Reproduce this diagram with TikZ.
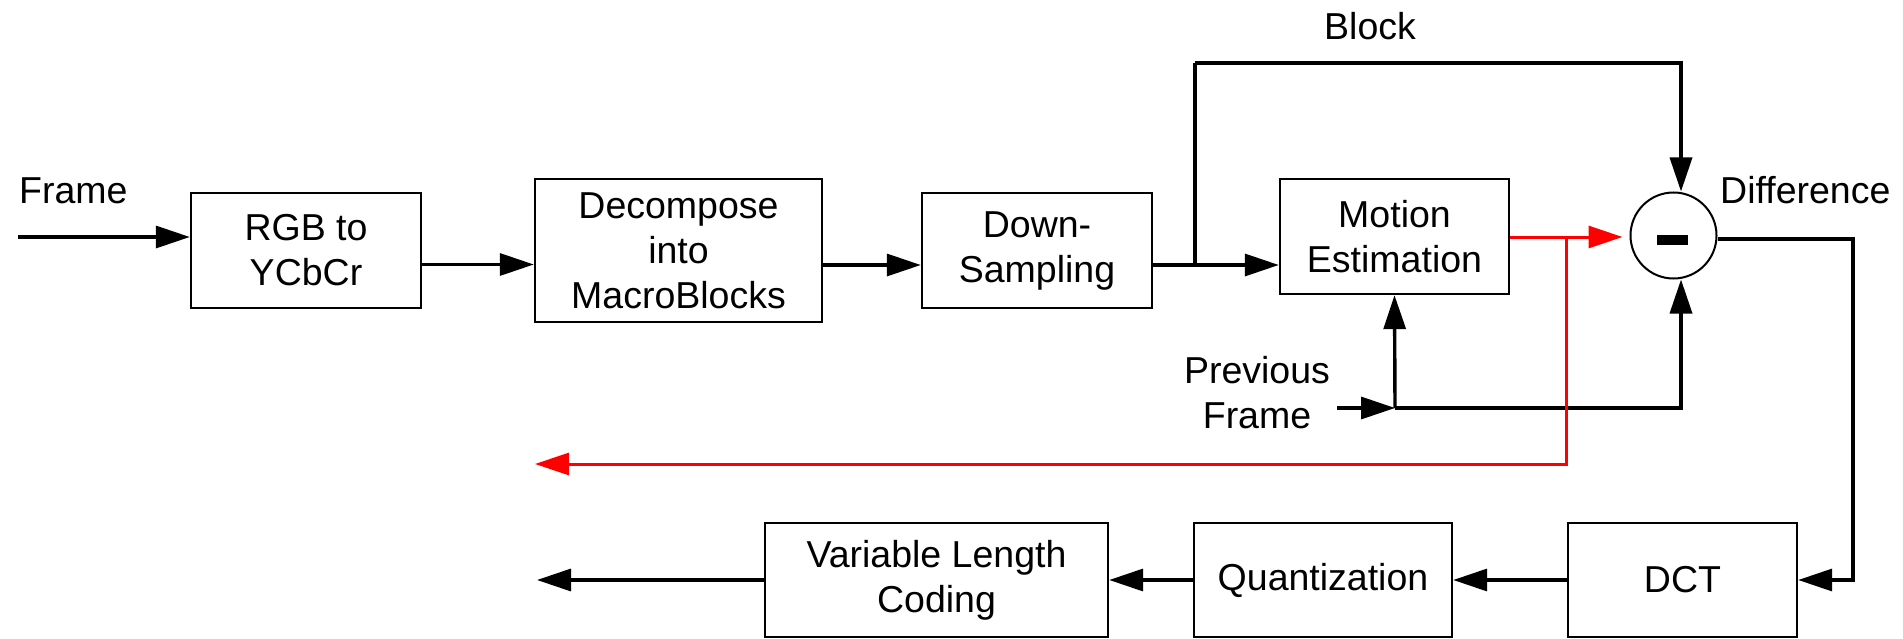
\documentclass[tikz,border=0pt]{standalone}
\usepackage{fontspec}
\setmainfont{Liberation Sans}
\usetikzlibrary{arrows.meta}

\newcommand\diagfont{\fontsize{37.5}{45}\selectfont}

\begin{document}
\begin{tikzpicture}[x=1pt,y=-1pt,
  box/.style={draw, line width=2.4pt, inner sep=0pt, align=center, font=\diagfont},
  lbl/.style={inner sep=0pt, align=center, font=\diagfont},
  tip/.style={-{Triangle[length=34pt,width=22pt]}},
  conn/.style={draw, line width=3.4pt, tip},
  redconn/.style={draw=red, line width=3pt, -{Triangle[length=34pt,width=22pt]}},
  wire/.style={draw, line width=3.4pt},
  redwire/.style={draw=red, line width=3pt}
]
\useasboundingbox (0,0) rectangle (1903,639);

% processing blocks, upper row
\node[box, minimum width=230pt, minimum height=115pt] (rgb)  at (306,250.5)   {RGB to\\YCbCr};
\node[box, minimum width=287pt, minimum height=143pt] (dec)  at (678.5,250.5) {Decompose\\into\\MacroBlocks};
\node[box, minimum width=230pt, minimum height=115pt] (down) at (1037,250.5)  {Down-\\Sampling};
\node[box, minimum width=229pt, minimum height=115pt] (me)   at (1394.5,236.5){Motion\\Estimation};

% subtractor
\node[draw, circle, line width=2pt, minimum size=86pt, inner sep=0pt] (sub) at (1673.5,235.5) {};
\fill (1657,235) rectangle (1688,245);

% processing blocks, lower row
\node[box, minimum width=343pt, minimum height=114pt] (vlc)   at (936.5,580) {Variable Length\\Coding};
\node[box, minimum width=258pt, minimum height=114pt] (quant) at (1323,580)  {Quantization};
\node[box, minimum width=229pt, minimum height=114pt] (dct)   at (1682.5,580){DCT};

% labels
\node[lbl, anchor=base west] (framelbl) at (19,204)    {Frame};
\node[lbl, anchor=base]      (blocklbl) at (1370,40)   {Block};
\node[lbl, anchor=base west] (difflbl)  at (1720,204)  {Difference};
\node[lbl]                   (prevlbl)  at (1257,393)  {Previous\\Frame};

% junction and end points
\coordinate (fin)  at (18,237);
\coordinate (br)   at (1195,265);
\coordinate (topL) at (1195,63);
\coordinate (pfin) at (1337,408);
\coordinate (pj)   at (1395,408);
\coordinate (rj)   at (1566,237);
\coordinate (rc)   at (1566,464);
\coordinate (rend) at (535,464);
\coordinate (oc)   at (1853,239);
\coordinate (out)  at (537,580);

% upper chain
\draw[conn] (fin) -- ([yshift=13.5pt]rgb.west);
\draw[conn] ([yshift=-14pt]rgb.east) -- ([yshift=-14pt]dec.west);
\draw[conn] ([yshift=-14.5pt]dec.east) -- ([yshift=-14.5pt]down.west);
\draw[conn] ([yshift=-14.5pt]down.east) -- ([yshift=-28.5pt]me.west);

% block path to the subtractor
\draw[wire] (br) -- (topL);
\draw[conn] (topL) -| ([xshift=7.5pt]sub.north);

% previous frame inputs
\draw[conn] (pfin) -- (pj);
\draw[conn] (pj) -- (me.south);
\draw[conn] (pj) -| ([xshift=7.5pt]sub.south);

% motion vectors (red)
\draw[redconn, shorten >=7pt] ([yshift=-0.5pt]me.east) -- ([yshift=-1.5pt]sub.west);
\draw[redconn] (rj) -- (rc) -- (rend);

% difference to the lower chain
\draw[conn] ([yshift=-3.5pt]sub.east) -- (oc) |- (dct.east);
\draw[conn] (dct.west) -- (quant.east);
\draw[conn] (quant.west) -- (vlc.east);
\draw[conn] (vlc.west) -- (out);
\end{tikzpicture}
\end{document}
